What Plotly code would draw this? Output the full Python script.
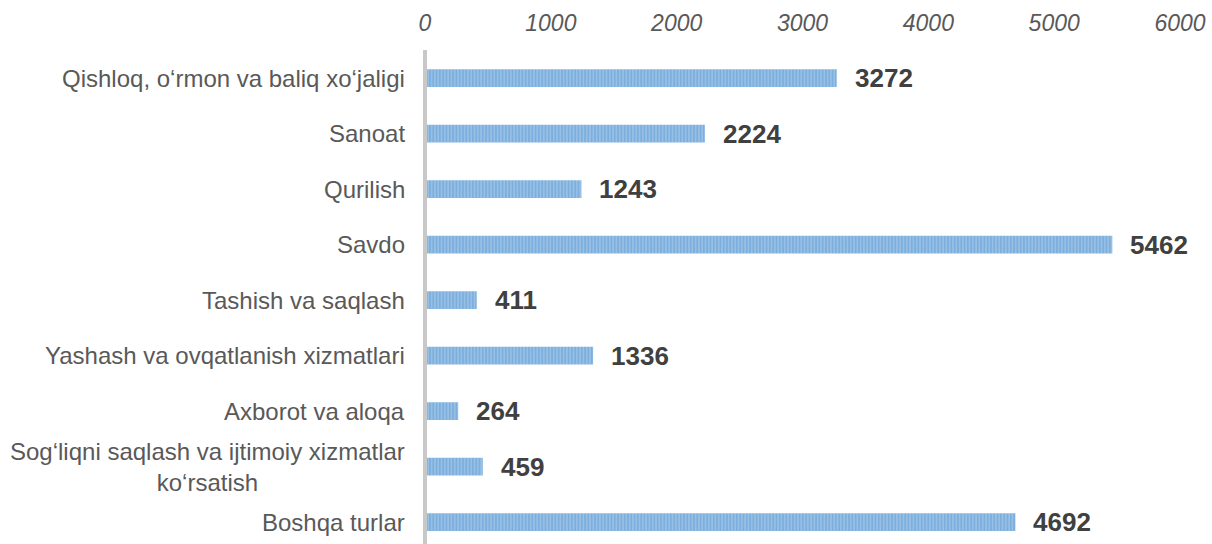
import plotly.graph_objects as go

categories = [
    "Qishloq, o‘rmon va baliq xo‘jaligi",
    "Sanoat",
    "Qurilish",
    "Savdo",
    "Tashish va saqlash",
    "Yashash va ovqatlanish xizmatlari",
    "Axborot va aloqa",
    "Sog‘liqni saqlash va ijtimoiy xizmatlar<br>ko‘rsatish",
    "Boshqa turlar",
]
values = [3272, 2224, 1243, 5462, 411, 1336, 264, 459, 4692]
x_ticks = [0, 1000, 2000, 3000, 4000, 5000, 6000]

FONT = "Liberation Sans, Arial, sans-serif"

fig = go.Figure()
fig.add_trace(go.Bar(
    y=categories, x=values, orientation="h", width=0.32,
    marker=dict(
        color="#9DC3E6",
        line=dict(width=0),
        pattern=dict(shape="|", fgcolor="#5B9BD5", size=3.3, solidity=0.6),
    ),
    hoverinfo="skip",
))

annotations = []
for c, v in zip(categories, values):
    annotations.append(dict(
        x=v, y=c, xref="x", yref="y", text=f"<b>{v}</b>", showarrow=False,
        xanchor="left", xshift=16, font=dict(family=FONT, size=26, color="#404040"),
    ))
    annotations.append(dict(
        x=0, y=c, xref="paper", yref="y", text=c, showarrow=False,
        xanchor="right", xshift=-18, align="center",
        font=dict(family=FONT, size=24, color="#595959"),
    ))

fig.update_layout(
    width=1212, height=544,
    margin=dict(l=425, r=32, t=50, b=0),
    plot_bgcolor="white", paper_bgcolor="white",
    showlegend=False,
    annotations=annotations,
    xaxis=dict(
        side="top", range=[0, 6000], tickvals=x_ticks,
        ticktext=[f"<i>{t}</i>" for t in x_ticks],
        showgrid=False, zeroline=False, showline=False,
        ticks="", ticklabelstandoff=13, ticklabeloverflow="allow",
        tickfont=dict(family=FONT, size=23, color="#595959"),
    ),
    yaxis=dict(
        type="category", categoryorder="array", categoryarray=categories,
        range=[8.396, -0.505], showticklabels=False, showgrid=False,
        zeroline=False, showline=False, ticks="",
    ),
    shapes=[dict(type="line", xref="paper", yref="paper", x0=0, x1=0, y0=0, y1=1,
                 layer="above", line=dict(color="#C8C8C8", width=4))],
)

fig.write_html(
    "out.html",
    config={"displayModeBar": False},
    post_script="document.body.style.margin='0';document.body.style.overflow='hidden';",
)
